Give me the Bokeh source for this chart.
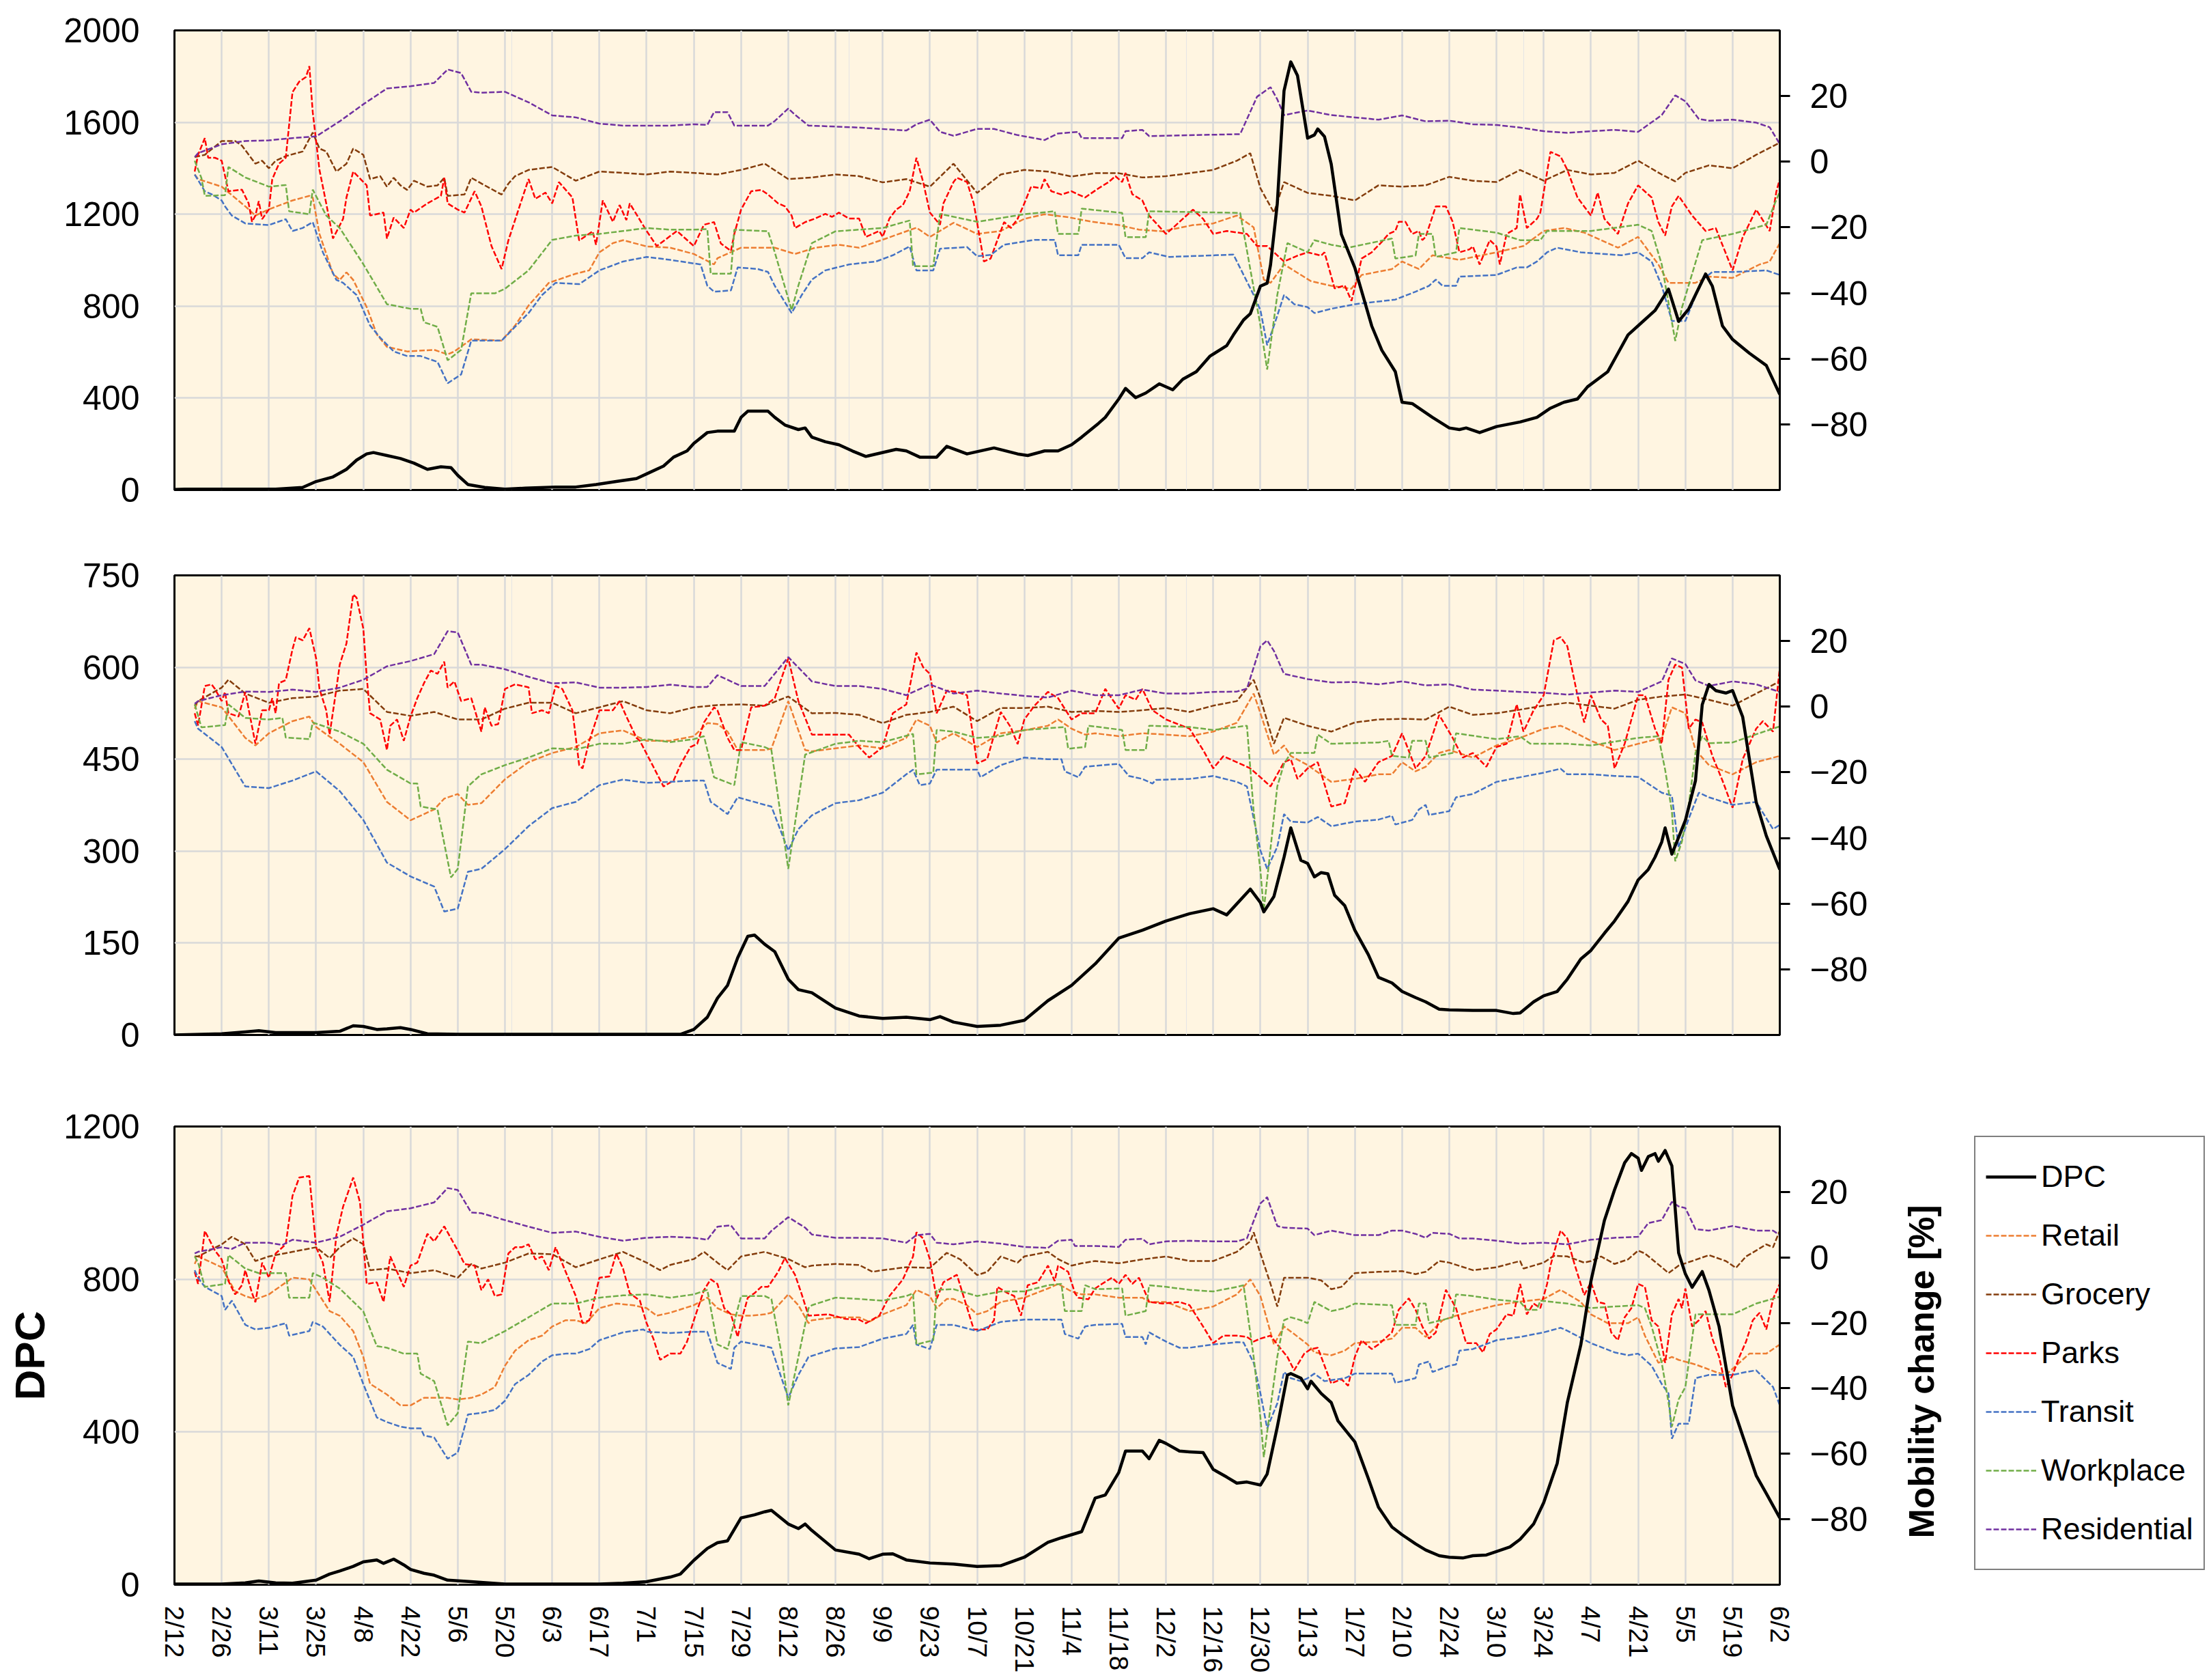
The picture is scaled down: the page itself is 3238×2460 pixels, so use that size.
import math
from bokeh.plotting import figure
from bokeh.models import (Range1d, LinearAxis, FixedTicker, Legend, LegendItem, Grid)
from bokeh.layouts import column, row
from bokeh.core.properties import value
from bokeh.embed import file_html
from bokeh.resources import INLINE

# ---------------- data (day offset from 2020-02-12, value) ----------------
TICK_LABELS = ["2/12", "2/26", "3/11", "3/25", "4/8", "4/22", "5/6", "5/20", "6/3",
               "6/17", "7/1", "7/15", "7/29", "8/12", "8/26", "9/9", "9/23", "10/7",
               "10/21", "11/4", "11/18", "12/2", "12/16", "12/30", "1/13", "1/27",
               "2/10", "2/24", "3/10", "3/24", "4/7", "4/21", "5/5", "5/19", "6/2"]

SERIES_NAMES = ["Retail", "Grocery", "Parks", "Transit", "Workplace", "Residential"]

# ---- panel 1 ----
P1_DPC = [(0,2),(3,4),(30,4),(38,11),(42,37),(47,57),(51,90),(54,130),(57,157),(59,163),(63,150),(67,137),(71,117),(75,90),(79,101),(82,97),(84,64),(87,24),(92,11),(98,4),(104,8),(113,13),(119,13),(125,24),(131,37),(137,50),(141,77),(145,104),(148,143),(152,170),(154,203),(158,250),(161,256),(166,256),(168,316),(170,343),(176,343),(178,316),(181,283),(185,263),(187,270),(189,230),(193,210),(197,197),(201,170),(205,146),(214,177),(217,170),(221,143),(226,143),(229,190),(235,157),(243,183),(250,157),(253,150),(258,170),(262,170),(266,197),(269,230),(274,290),(276,316),(280,396),(282,442),(285,402),(288,422),(292,462),(296,436),(299,482),(303,515),(307,582),(312,628),(314,675),(317,740),(319,767),(322,887),(324,900),(325,980),(327,1246),(329,1737),(331,1863),(333,1803),(336,1531),(338,1545),(339,1571),(341,1538),(343,1418),(346,1113),(350,967),(355,714),(358,608),(362,515),(364,382),(367,376),(369,356),(373,316),(378,270),(381,263),(383,270),(387,250),(392,276),(399,296),(404,316),(408,356),(412,382),(416,396),(419,449),(425,515),(428,595),(431,675),(435,728),(439,781),(443,874),(446,734),(449,788),(454,940),(456,887),(459,714),(462,655),(467,595),(472,542),(476,416)]
P1_RETAIL = [(6,-3.9),(7,-5.3),(14,-7.6),(21,-13.6),(24,-16.4),(28,-14.5),(35,-11.8),(40,-10.4),(41,-10.9),(43,-22.0),(47,-34.1),(49,-36.0),(51,-33.7),(53,-36.0),(57,-44.3),(60,-52.6),(63,-56.4),(69,-57.8),(77,-57.3),(81,-58.7),(83,-57.8),(88,-54.1),(97,-54.5),(101,-49.9),(105,-43.8),(111,-36.9),(119,-34.1),(123,-33.1),(126,-27.6),(130,-24.8),(133,-23.9),(140,-25.8),(147,-26.2),(154,-28.1),(160,-31.3),(161,-29.4),(168,-26.2),(178,-26.2),(184,-28.1),(190,-26.2),(197,-25.3),(203,-26.2),(211,-23.4),(220,-20.1),(224,-22.9),(231,-18.6),(238,-22.0),(245,-21.1),(252,-17.4),(258,-16.0),(265,-16.9),(272,-18.3),(280,-19.3),(286,-20.7),(293,-21.2),(302,-19.3),(308,-18.8),(315,-16.4),(320,-20.0),(323,-35.9),(325,-36.9),(329,-31.3),(337,-36.4),(343,-37.8),(349,-38.7),(352,-34.5),(361,-32.7),(364,-30.4),(369,-32.7),(373,-28.5),(381,-29.9),(392,-27.6),(400,-25.7),(406,-21.1),(412,-20.2),(418,-21.6),(428,-26.2),(434,-22.9),(440,-31.3),(443,-36.9),(451,-36.9),(455,-35.0),(462,-35.4),(470,-31.3),(473,-30.4),(476,-24.8)]
P1_GROCERY = [(6,1.4),(9,2.1),(14,6.3),(18,6.3),(20,4.9),(24,-0.6),(26,0.3),(28,-2.0),(30,0.3),(33,1.7),(38,3.1),(41,8.9),(43,4.0),(45,3.1),(48,-3.0),(51,-0.6),(53,4.0),(56,2.1),(58,-5.3),(61,-4.4),(63,-7.6),(65,-4.9),(67,-7.2),(69,-8.6),(71,-5.8),(75,-7.6),(78,-7.2),(80,-4.9),(81,-10.4),(86,-10.0),(88,-4.9),(92,-7.2),(97,-10.0),(99,-6.7),(101,-4.4),(105,-2.5),(112,-1.6),(119,-5.8),(126,-3.0),(133,-3.4),(140,-3.9),(147,-3.0),(154,-3.4),(161,-3.9),(168,-2.5),(175,-0.6),(182,-5.3),(189,-4.8),(196,-3.9),(203,-4.4),(210,-6.3),(217,-5.3),(224,-7.6),(231,-0.6),(238,-9.5),(245,-3.9),(252,-2.5),(259,-3.0),(266,-4.5),(273,-3.5),(280,-3.5),(287,-4.8),(294,-4.4),(301,-3.5),(308,-2.5),(315,0.3),(319,2.6),(322,-8.1),(326,-15.5),(329,-6.2),(336,-9.5),(343,-10.4),(350,-11.8),(357,-7.2),(364,-7.6),(371,-7.2),(378,-4.6),(385,-5.8),(392,-6.2),(399,-2.5),(406,-5.8),(413,-2.5),(420,-3.9),(427,-3.4),(434,0.3),(441,-3.9),(445,-6.0),(448,-3.4),(455,-1.1),(462,-2.0),(469,2.1),(476,5.8)]
P1_PARKS = [(6,-3.0),(7,2.1),(9,7.2),(10,1.2),(12,1.2),(14,0.3),(16,-9.0),(20,-8.5),(22,-12.7),(23,-18.3),(24,-16.4),(25,-12.0),(26,-17.5),(28,-14.5),(29,-5.3),(31,-0.6),(33,1.2),(35,21.2),(37,24.4),(39,25.8),(40,29.1),(41,15.1),(43,-2.5),(45,-12.7),(47,-23.4),(50,-17.4),(51,-10.9),(53,-3.0),(57,-7.2),(58,-16.4),(62,-15.5),(63,-23.4),(65,-17.0),(68,-20.2),(70,-14.6),(71,-15.5),(75,-12.7),(79,-10.4),(80,-4.9),(81,-12.7),(84,-14.6),(86,-15.5),(89,-9.0),(91,-13.6),(94,-25.7),(97,-32.7),(99,-24.0),(102,-14.6),(105,-5.3),(107,-11.3),(110,-9.4),(112,-12.7),(114,-6.2),(118,-10.9),(120,-24.0),(124,-21.2),(125,-25.3),(127,-11.8),(130,-18.3),(132,-13.2),(134,-17.8),(135,-12.7),(140,-21.1),(143,-25.7),(149,-21.1),(154,-25.7),(157,-19.2),(160,-18.4),(162,-24.9),(165,-27.2),(166,-22.0),(168,-14.6),(171,-9.0),(174,-8.6),(176,-10.0),(179,-12.7),(181,-13.6),(183,-16.4),(184,-20.2),(187,-18.4),(190,-17.3),(193,-15.9),(195,-16.8),(197,-15.5),(200,-17.3),(203,-17.3),(205,-22.9),(209,-21.1),(210,-22.9),(212,-17.3),(214,-14.6),(216,-13.2),(218,-9.0),(220,1.2),(222,-6.2),(224,-15.5),(227,-19.2),(228,-12.7),(231,-6.2),(232,-4.9),(235,-6.2),(237,-12.7),(240,-30.4),(242,-29.5),(244,-23.9),(246,-18.4),(248,-20.2),(250,-17.4),(252,-12.7),(254,-7.6),(257,-8.1),(258,-5.3),(260,-9.0),(263,-10.0),(266,-9.0),(268,-10.0),(270,-10.9),(274,-8.1),(277,-6.2),(279,-4.4),(281,-6.2),(282,-3.4),(284,-9.9),(287,-11.8),(289,-16.4),(294,-22.0),(296,-20.2),(299,-17.4),(302,-14.6),(305,-17.4),(308,-22.0),(312,-21.1),(318,-22.0),(321,-25.7),(324,-25.7),(329,-30.4),(333,-28.6),(336,-27.6),(340,-28.6),(341,-27.6),(344,-38.6),(347,-37.7),(349,-42.4),(351,-34.1),(352,-29.5),(355,-27.6),(358,-24.4),(360,-22.0),(362,-21.1),(363,-18.3),(365,-18.3),(367,-22.0),(369,-21.1),(370,-23.9),(371,-22.9),(374,-13.6),(377,-13.6),(379,-18.3),(381,-27.6),(384,-26.7),(385,-25.8),(387,-31.3),(390,-23.9),(392,-25.8),(393,-31.3),(395,-22.0),(398,-20.2),(399,-10.0),(401,-20.2),(404,-17.4),(405,-15.5),(408,3.0),(411,1.6),(413,-2.5),(414,-5.3),(416,-10.9),(420,-16.4),(422,-9.4),(424,-17.4),(428,-22.0),(431,-12.7),(434,-7.2),(438,-10.9),(440,-18.4),(442,-22.5),(444,-13.6),(446,-10.4),(450,-16.4),(454,-21.1),(457,-20.2),(462,-33.1),(465,-23.0),(469,-14.6),(473,-21.1),(475,-9.0),(476,-5.3)]
P1_TRANSIT = [(6,-3.9),(9,-9.0),(11,-9.9),(14,-11.8),(15,-13.6),(17,-16.4),(21,-18.8),(28,-19.3),(33,-17.5),(35,-21.1),(38,-20.2),(41,-18.4),(44,-27.6),(48,-36.0),(50,-36.9),(54,-40.6),(58,-49.9),(61,-53.6),(65,-57.8),(69,-59.2),(73,-59.2),(78,-61.0),(81,-67.5),(85,-64.8),(88,-54.5),(97,-54.5),(105,-46.1),(109,-40.6),(113,-36.9),(120,-37.3),(126,-33.1),(133,-30.4),(140,-29.0),(147,-29.9),(156,-31.3),(158,-37.8),(160,-39.6),(165,-39.2),(167,-32.2),(173,-32.7),(176,-33.6),(178,-37.8),(183,-46.1),(186,-40.6),(189,-35.9),(193,-33.1),(200,-31.3),(208,-30.4),(213,-28.5),(218,-25.8),(220,-33.1),(225,-33.1),(227,-26.5),(235,-26.0),(238,-28.8),(242,-28.4),(246,-25.3),(255,-23.8),(261,-23.8),(262,-28.5),(268,-28.5),(269,-25.3),(280,-25.3),(282,-29.4),(287,-29.4),(289,-27.6),(295,-29.0),(314,-28.3),(320,-40.6),(322,-45.2),(324,-55.9),(326,-50.0),(329,-40.6),(332,-43.4),(336,-44.3),(338,-46.1),(343,-44.8),(350,-43.4),(362,-42.0),(368,-39.6),(372,-37.8),(374,-35.9),(376,-37.8),(380,-37.8),(381,-35.0),(392,-34.5),(398,-32.2),(401,-32.2),(404,-30.4),(407,-27.6),(410,-26.2),(417,-27.6),(429,-28.5),(434,-27.6),(438,-30.4),(441,-37.8),(444,-48.5),(448,-48.5),(453,-35.9),(456,-33.6),(462,-33.6),(472,-33.1),(476,-34.5)]
P1_WORKPLACE = [(6,0.3),(8,-5.0),(9,-10.4),(15,-10.2),(16,-1.6),(21,-4.8),(28,-7.6),(33,-7.1),(34,-15.1),(40,-16.0),(41,-8.5),(45,-16.4),(49,-20.2),(56,-31.2),(63,-43.4),(70,-44.8),(73,-44.8),(74,-48.9),(78,-50.3),(81,-60.5),(85,-57.3),(88,-40.1),(95,-40.1),(98,-38.7),(105,-33.1),(112,-23.8),(119,-22.5),(126,-22.0),(133,-21.1),(140,-20.2),(147,-20.7),(154,-20.7),(158,-20.5),(159,-34.1),(165,-34.1),(166,-20.7),(176,-21.2),(178,-27.6),(183,-45.2),(185,-37.7),(189,-24.8),(196,-21.2),(210,-20.2),(218,-17.9),(219,-31.8),(225,-31.8),(227,-15.9),(238,-18.3),(252,-16.0),(261,-15.1),(262,-22.0),(268,-22.0),(269,-14.3),(281,-15.6),(282,-23.0),(288,-23.0),(289,-15.1),(316,-15.6),(322,-49.9),(324,-63.3),(327,-40.6),(330,-24.8),(336,-27.6),(338,-23.9),(343,-25.3),(348,-26.2),(361,-23.4),(362,-29.5),(368,-28.6),(369,-22.0),(373,-22.0),(374,-29.0),(380,-27.6),(381,-20.2),(392,-21.6),(399,-23.9),(405,-23.9),(407,-21.1),(420,-21.1),(434,-19.2),(438,-21.1),(441,-31.3),(445,-54.6),(447,-44.4),(453,-23.9),(462,-22.0),(472,-19.2),(476,-9.0)]
P1_RESIDENTIAL = [(6,1.4),(7,2.6),(14,5.3),(21,6.3),(28,6.5),(35,7.2),(42,7.7),(49,12.3),(56,17.5),(63,22.3),(70,23.0),(77,24.0),(81,28.1),(85,27.0),(88,21.3),(91,21.0),(98,21.3),(105,18.1),(112,14.1),(119,13.5),(126,11.6),(133,11.0),(140,11.0),(147,11.0),(154,11.4),(158,11.2),(160,15.1),(164,15.1),(166,11.0),(176,11.0),(178,12.4),(182,16.2),(184,14.3),(188,11.0),(196,10.7),(203,10.4),(217,9.5),(220,11.4),(224,12.8),(227,9.1),(231,7.9),(238,10.0),(243,10.0),(250,8.1),(258,6.6),(262,8.6),(268,9.1),(269,7.2),(281,7.2),(282,9.3),(287,9.7),(289,7.8),(316,8.4),(321,19.8),(325,22.7),(327,19.0),(329,14.2),(336,15.6),(343,14.2),(350,13.5),(357,12.8),(364,14.1),(371,12.3),(378,12.5),(385,11.4),(392,11.2),(399,10.4),(406,9.3),(413,8.8),(420,9.3),(427,9.7),(434,9.1),(438,12.0),(441,14.2),(445,20.2),(448,18.4),(452,13.0),(455,12.5),(462,12.8),(469,11.9),(473,10.5),(476,5.4)]

# ---- panel 2 ----
P2_DPC = [(0,0),(14,2),(21,5),(25,7),(30,4),(42,4),(49,6),(53,15),(56,14),(60,9),(63,10),(67,12),(70,9),(75,2),(84,1),(150,1),(154,9),(158,29),(161,60),(164,81),(167,126),(170,161),(172,163),(175,148),(178,136),(182,91),(185,74),(189,69),(196,44),(203,31),(210,27),(217,29),(224,25),(227,30),(231,21),(238,14),(245,16),(252,24),(259,56),(266,81),(273,116),(280,158),(287,171),(294,186),(301,198),(308,206),(312,196),(319,238),(322,216),(323,201),(326,226),(329,290),(331,338),(334,285),(336,280),(338,258),(340,265),(342,263),(344,228),(347,211),(350,171),(354,131),(357,94),(361,85),(364,71),(368,61),(371,54),(375,42),(378,41),(385,40),(392,40),(397,35),(399,36),(403,54),(406,64),(410,71),(413,91),(417,124),(420,138),(424,166),(427,186),(431,218),(434,253),(437,270),(439,290),(441,315),(442,338),(444,295),(448,350),(451,415),(453,539),(455,572),(457,562),(460,558),(462,562),(465,519),(469,380),(472,325),(476,270)]
P2_RETAIL = [(6,-0.6),(7,1.7),(14,-0.2),(21,-9.5),(24,-11.8),(28,-8.1),(35,-4.4),(40,-3.0),(42,-6.2),(49,-11.3),(56,-16.9),(63,-29.0),(70,-34.6),(77,-31.3),(80,-28.0),(84,-26.6),(87,-29.9),(91,-29.4),(98,-22.1),(105,-16.9),(112,-14.1),(119,-12.3),(126,-8.1),(133,-7.2),(140,-10.4),(147,-10.4),(154,-9.0),(158,-5.0),(161,-5.3),(164,-7.6),(167,-13.2),(175,-13.2),(177,-12.8),(182,1.7),(187,-13.2),(189,-13.6),(196,-12.7),(203,-11.8),(210,-12.7),(217,-9.5),(220,-3.9),(224,-5.8),(226,-10.9),(231,-8.1),(238,-12.3),(245,-8.1),(252,-7.2),(259,-5.8),(262,-3.9),(266,-6.7),(270,-8.5),(273,-8.1),(280,-9.0),(287,-8.1),(294,-8.5),(301,-9.0),(308,-7.6),(315,-4.9),(320,4.0),(322,-2.0),(326,-14.6),(329,-11.8),(331,-15.0),(336,-17.8),(343,-22.9),(350,-22.0),(357,-20.6),(361,-20.6),(364,-16.9),(368,-19.7),(371,-18.3),(375,-14.1),(378,-13.2),(385,-15.5),(392,-11.8),(399,-9.5),(406,-6.7),(411,-5.8),(413,-6.7),(420,-10.4),(427,-13.2),(434,-11.3),(441,-9.5),(444,-0.2),(448,-2.0),(451,-13.2),(455,-17.8),(462,-20.6),(469,-16.9),(476,-15.0)]
P2_GROCERY = [(6,0.3),(7,1.7),(14,5.8),(16,8.2),(21,4.0),(28,1.2),(35,2.6),(42,3.1),(49,4.9),(56,5.4),(63,-1.6),(70,-2.8),(77,-1.6),(84,-3.9),(91,-3.9),(98,-0.6),(105,1.2),(112,1.2),(119,-2.0),(126,-0.2),(133,1.7),(140,-1.1),(147,-2.0),(154,-0.2),(161,0.5),(168,0.7),(175,0.3),(182,3.1),(189,-2.0),(196,-1.9),(203,-2.5),(210,-5.0),(217,-2.5),(224,-1.6),(231,0.0),(238,-4.4),(245,-0.4),(252,-0.4),(259,0.0),(266,-1.6),(273,-1.3),(280,-1.6),(287,-1.1),(294,-0.4),(301,-1.6),(308,0.3),(315,1.7),(320,8.2),(322,2.6),(326,-11.3),(329,-3.4),(336,-5.8),(343,-7.6),(350,-4.8),(357,-3.9),(364,-3.7),(371,-3.9),(378,0.0),(385,-2.5),(392,-2.0),(399,-0.9),(406,0.3),(413,1.2),(420,0.3),(427,-0.6),(434,2.1),(441,3.1),(448,3.7),(455,2.1),(462,0.3),(469,4.0),(476,7.7)]
P2_PARKS = [(6,-2.0),(7,-5.7),(9,6.3),(11,6.8),(12,5.4),(14,1.7),(15,4.5),(16,-2.0),(19,-3.0),(21,4.5),(24,-11.3),(26,-1.1),(28,-1.1),(29,2.6),(30,-2.0),(31,7.2),(33,8.1),(35,17.5),(36,21.2),(38,20.2),(40,23.9),(42,14.7),(43,5.4),(45,-1.1),(46,-8.5),(48,5.4),(49,12.8),(51,19.3),(53,34.2),(54,33.2),(56,23.8),(57,9.1),(58,-2.0),(61,-3.9),(63,-13.2),(64,-5.8),(66,-3.9),(68,-10.4),(70,-3.0),(72,2.6),(74,7.2),(76,11.0),(78,10.0),(80,13.7),(81,5.8),(83,7.7),(85,1.7),(88,2.6),(91,-7.6),(92,-0.2),(94,-5.8),(96,-5.3),(98,5.4),(101,6.8),(105,5.9),(106,-2.0),(109,-1.1),(111,-2.0),(113,6.3),(115,5.4),(118,-1.1),(120,-17.8),(121,-18.8),(123,-10.4),(126,-1.1),(130,-1.1),(132,1.7),(134,-3.0),(137,-9.5),(138,-10.4),(142,-18.3),(145,-24.3),(148,-22.5),(150,-17.8),(153,-12.3),(155,-11.3),(157,-4.8),(160,-0.2),(161,-1.1),(164,-9.5),(166,-13.2),(168,-13.2),(171,-0.2),(175,0.3),(178,2.6),(182,14.7),(185,1.7),(189,-8.5),(196,-8.5),(200,-8.5),(203,-12.3),(206,-15.5),(210,-12.3),(213,-2.0),(217,0.7),(220,16.5),(222,12.0),(224,10.0),(226,-2.0),(229,4.9),(232,4.5),(235,3.5),(238,-17.3),(241,-15.9),(245,-1.6),(248,-6.3),(250,-11.4),(252,-3.9),(255,0.3),(259,4.5),(262,2.6),(266,-3.9),(269,-2.0),(273,-2.0),(276,5.4),(280,-0.6),(282,3.5),(285,2.1),(287,5.4),(290,-1.1),(294,-3.9),(301,-6.7),(305,-13.2),(308,-18.8),(311,-15.1),(315,-16.9),(319,-18.8),(322,-21.5),(325,-24.3),(329,-16.9),(331,-16.0),(333,-22.0),(336,-18.8),(339,-16.9),(343,-30.4),(347,-29.4),(350,-18.8),(353,-22.9),(357,-16.9),(361,-15.0),(364,-8.1),(368,-18.8),(371,-15.0),(375,-2.5),(379,-9.5),(382,-15.5),(385,-14.1),(389,-18.3),(392,-12.3),(395,-11.3),(398,0.7),(400,-7.6),(403,-1.1),(406,3.5),(409,20.2),(411,21.2),(413,18.4),(416,3.5),(418,-4.8),(420,3.5),(423,-3.9),(425,-5.8),(427,-18.8),(430,-11.3),(434,3.5),(436,3.5),(439,-6.7),(441,-11.3),(443,8.2),(445,12.8),(447,11.9),(449,-6.7),(451,-3.9),(453,-4.8),(456,-15.0),(459,-22.5),(462,-30.8),(465,-16.0),(469,-6.7),(471,-4.4),(474,-7.6),(476,11.9)]
P2_TRANSIT = [(6,-4.4),(7,-6.7),(14,-12.3),(21,-24.3),(28,-24.8),(35,-22.5),(42,-19.7),(49,-25.7),(56,-34.5),(63,-47.5),(70,-51.7),(77,-54.8),(80,-62.4),(84,-61.5),(87,-50.3),(91,-49.4),(98,-43.4),(105,-36.4),(112,-30.9),(119,-29.0),(126,-23.9),(133,-22.2),(140,-23.2),(147,-22.9),(154,-22.5),(157,-22.5),(159,-29.0),(161,-30.4),(164,-32.7),(167,-27.6),(175,-29.9),(177,-30.4),(182,-43.8),(185,-37.3),(189,-33.1),(196,-29.4),(203,-28.5),(210,-26.2),(217,-20.6),(219,-19.2),(221,-23.9),(224,-23.4),(226,-19.2),(238,-19.2),(239,-21.5),(245,-17.8),(252,-15.5),(259,-16.0),(263,-16.0),(264,-19.7),(268,-21.5),(270,-18.3),(280,-17.4),(283,-21.1),(287,-22.0),(290,-23.4),(291,-22.3),(301,-22.0),(308,-21.1),(315,-22.9),(318,-24.3),(322,-43.8),(324,-49.4),(327,-42.7),(329,-32.7),(331,-35.0),(336,-35.3),(339,-33.6),(343,-36.4),(350,-35.0),(357,-34.4),(361,-33.2),(362,-35.9),(367,-34.5),(369,-31.3),(371,-29.9),(372,-33.0),(378,-31.8),(380,-27.6),(385,-26.6),(392,-22.9),(399,-21.5),(406,-20.1),(411,-18.9),(413,-20.6),(420,-20.6),(427,-21.1),(434,-21.4),(441,-26.2),(444,-27.1),(446,-42.9),(449,-34.1),(452,-26.2),(455,-27.6),(462,-29.9),(469,-29.0),(474,-37.3),(476,-36.0)]
P2_WORKPLACE = [(6,0.7),(8,-6.3),(15,-5.6),(16,0.7),(21,-3.4),(28,-3.9),(32,-3.4),(33,-9.4),(40,-9.9),(41,-4.8),(49,-7.6),(56,-11.3),(63,-19.2),(70,-23.4),(72,-23.4),(73,-30.4),(78,-31.3),(82,-52.0),(84,-49.4),(87,-24.3),(91,-20.6),(98,-17.8),(105,-15.5),(112,-12.7),(119,-13.0),(126,-11.3),(133,-11.3),(140,-9.9),(147,-10.8),(154,-9.9),(157,-9.0),(160,-21.5),(166,-23.9),(168,-10.8),(175,-12.3),(177,-13.2),(182,-49.4),(187,-14.6),(196,-11.3),(203,-10.4),(210,-10.8),(219,-8.3),(220,-20.6),(225,-20.1),(226,-7.1),(231,-7.6),(238,-9.5),(245,-9.0),(252,-7.1),(264,-6.2),(265,-12.8),(270,-12.3),(271,-5.8),(281,-7.1),(282,-13.2),(288,-13.2),(289,-5.8),(301,-6.2),(308,-7.1),(318,-5.8),(320,-31.8),(322,-50.0),(323,-62.0),(327,-24.3),(329,-17.4),(331,-14.1),(338,-14.1),(339,-8.5),(343,-11.3),(357,-10.9),(360,-10.4),(361,-15.0),(366,-15.5),(367,-10.4),(371,-10.4),(372,-15.5),(379,-14.1),(380,-8.1),(392,-9.9),(399,-9.0),(402,-11.3),(413,-11.3),(420,-11.8),(434,-9.5),(440,-9.0),(442,-19.2),(444,-31.8),(445,-47.1),(447,-41.0),(449,-29.9),(451,-14.1),(453,-9.0),(455,-11.1),(462,-10.9),(469,-8.4),(476,-6.0)]
P2_RESIDENTIAL = [(6,0.9),(7,1.7),(14,3.5),(21,4.6),(28,4.5),(35,5.2),(42,4.5),(49,5.8),(56,8.2),(63,12.3),(70,13.9),(77,16.0),(81,23.0),(84,22.6),(88,12.8),(91,12.8),(98,11.4),(105,9.1),(112,7.1),(119,7.4),(126,5.8),(133,5.8),(140,6.0),(147,6.7),(154,6.0),(158,6.0),(161,9.6),(168,6.3),(175,6.3),(182,15.1),(189,7.7),(196,6.3),(203,6.3),(210,5.4),(217,3.5),(224,6.8),(231,4.0),(238,4.9),(245,4.0),(252,3.3),(259,2.8),(266,4.9),(273,3.5),(280,3.5),(287,5.2),(294,4.0),(301,4.0),(308,4.5),(315,4.6),(318,5.5),(322,18.4),(324,20.2),(326,17.0),(329,10.0),(336,8.4),(343,7.4),(350,7.5),(357,6.8),(364,7.7),(371,6.5),(378,6.8),(385,5.2),(392,4.9),(399,4.5),(406,4.2),(413,3.7),(420,4.3),(427,4.9),(434,4.5),(441,7.7),(444,14.7),(448,13.0),(451,8.0),(455,6.3),(462,7.7),(469,6.8),(476,4.5)]

# ---- panel 3 ----
P3_DPC = [(0,2),(14,2),(21,5),(25,10),(30,5),(35,4),(42,12),(46,28),(49,36),(53,48),(56,60),(60,65),(62,56),(65,67),(68,52),(70,40),(74,30),(77,25),(81,12),(88,8),(98,2),(126,2),(133,4),(140,8),(147,20),(150,28),(154,64),(158,95),(161,110),(164,115),(168,175),(172,183),(175,191),(177,195),(182,159),(185,147),(187,159),(189,142),(196,91),(203,80),(206,68),(210,80),(213,81),(217,65),(224,57),(231,54),(238,48),(245,50),(252,72),(259,111),(263,123),(266,131),(269,139),(273,227),(276,235),(280,294),(282,350),(287,350),(289,330),(292,378),(294,370),(298,350),(301,348),(305,346),(308,302),(312,282),(315,266),(318,269),(322,261),(324,290),(327,413),(330,549),(331,553),(334,541),(336,513),(337,533),(340,501),(343,477),(345,429),(350,374),(354,278),(357,203),(361,151),(364,131),(368,107),(371,91),(375,76),(378,72),(382,70),(385,76),(389,78),(392,87),(396,99),(399,119),(403,159),(406,215),(410,318),(413,477),(417,628),(420,795),(424,954),(427,1034),(430,1105),(432,1129),(434,1117),(435,1085),(437,1121),(439,1129),(440,1109),(442,1137),(444,1097),(446,869),(448,814),(450,779),(453,820),(455,771),(458,676),(462,469),(465,390),(469,286),(472,239),(476,175)]
P3_RETAIL = [(6,-2.0),(7,0.3),(14,-3.0),(18,-10.4),(21,-11.8),(24,-12.8),(28,-11.3),(35,-6.2),(40,-6.7),(42,-10.0),(46,-16.4),(49,-17.8),(53,-22.5),(56,-30.4),(58,-38.6),(63,-41.9),(67,-45.2),(70,-45.2),(74,-42.9),(77,-42.9),(81,-42.9),(84,-43.4),(88,-42.9),(91,-41.9),(95,-39.6),(98,-33.1),(101,-28.5),(105,-25.3),(109,-23.9),(112,-21.1),(116,-19.2),(119,-19.2),(122,-20.1),(126,-15.5),(131,-14.1),(136,-14.6),(140,-15.5),(143,-17.8),(147,-16.9),(154,-14.6),(158,-12.3),(161,-15.5),(165,-17.4),(168,-17.8),(171,-17.8),(175,-17.4),(177,-16.9),(182,-11.3),(185,-14.6),(188,-20.1),(189,-19.2),(196,-18.3),(203,-18.3),(206,-19.7),(210,-17.4),(217,-14.6),(220,-9.9),(224,-11.8),(226,-15.5),(229,-12.7),(231,-12.7),(235,-14.6),(238,-17.4),(241,-16.4),(245,-13.6),(252,-12.3),(259,-9.5),(262,-8.1),(266,-10.4),(269,-11.3),(273,-11.3),(280,-12.3),(287,-12.3),(289,-13.6),(294,-13.6),(301,-16.4),(308,-15.0),(315,-11.3),(319,-6.7),(322,-11.8),(326,-26.6),(329,-21.1),(332,-23.4),(336,-26.6),(338,-29.0),(343,-29.9),(347,-28.5),(350,-26.2),(357,-25.7),(361,-24.8),(364,-21.5),(368,-21.5),(371,-24.3),(376,-19.2),(380,-17.8),(385,-16.4),(392,-14.6),(399,-13.5),(406,-12.7),(411,-9.9),(417,-13.6),(420,-17.4),(425,-20.1),(431,-20.1),(434,-18.3),(436,-23.9),(440,-32.2),(444,-30.4),(446,-31.3),(451,-32.7),(457,-35.0),(460,-35.9),(463,-33.1),(467,-29.4),(472,-29.4),(476,-26.6)]
P3_GROCERY = [(6,0.3),(7,0.3),(14,4.0),(17,6.3),(21,4.0),(24,-1.1),(28,0.3),(35,1.7),(42,3.1),(46,-0.2),(49,3.1),(53,5.8),(56,4.0),(58,-3.9),(63,-3.4),(70,-4.8),(77,-3.9),(84,-6.2),(88,-2.0),(91,-3.4),(98,-1.6),(105,1.2),(112,1.0),(119,-3.0),(126,-0.6),(133,1.7),(140,-1.6),(144,-3.9),(147,-2.3),(154,-0.5),(157,1.7),(161,-1.6),(164,-3.9),(168,0.3),(175,1.7),(182,-0.5),(187,-3.0),(189,-2.5),(196,-2.0),(203,-2.3),(207,-4.4),(210,-3.9),(217,-3.0),(224,-3.2),(229,1.4),(233,-0.6),(238,-5.4),(241,-4.4),(245,0.3),(250,-1.6),(252,0.3),(259,1.7),(262,-0.5),(266,-2.5),(269,-1.8),(273,-1.1),(280,-1.8),(287,-0.6),(294,0.3),(301,-1.1),(308,-1.1),(315,1.7),(319,4.9),(320,7.7),(322,1.2),(325,-8.1),(327,-15.0),(329,-6.2),(336,-6.2),(340,-7.0),(343,-9.7),(346,-9.0),(350,-4.8),(357,-4.4),(364,-4.2),(368,-5.1),(371,-4.4),(375,-1.1),(378,-1.6),(385,-3.9),(392,-3.0),(399,-1.1),(400,-3.4),(406,-1.6),(409,0.5),(413,0.3),(418,-1.6),(420,-1.1),(423,0.3),(427,-2.0),(431,-0.6),(434,2.1),(436,1.2),(441,-3.0),(443,-4.8),(446,-2.5),(450,-1.1),(455,0.7),(460,-1.1),(463,-3.2),(466,0.3),(469,2.1),(472,4.0),(474,3.1),(476,8.2)]
P3_PARKS = [(6,-4.4),(7,-8.1),(9,8.1),(12,2.1),(14,-0.6),(16,-7.2),(18,-11.3),(20,-8.5),(21,-3.9),(23,-10.9),(24,-13.7),(26,-1.6),(28,-6.2),(30,1.2),(33,4.0),(35,18.8),(37,24.4),(40,24.9),(42,3.1),(44,-1.6),(46,-13.6),(48,6.7),(50,15.5),(53,24.4),(55,16.9),(57,-8.1),(60,-7.6),(62,-13.6),(64,0.3),(66,-4.4),(68,-9.0),(70,-2.5),(72,-1.6),(75,7.2),(77,4.9),(80,9.5),(82,5.8),(84,2.1),(86,-2.0),(89,-2.5),(91,-10.0),(93,-6.7),(95,-11.8),(97,-11.3),(99,1.2),(101,3.1),(103,3.1),(105,4.0),(107,-0.6),(109,0.3),(111,-3.9),(113,3.1),(116,-4.4),(119,-11.8),(121,-20.1),(123,-19.2),(126,-6.2),(129,-5.8),(131,1.2),(133,-3.4),(135,-10.9),(138,-13.2),(140,-20.1),(142,-24.8),(144,-31.3),(147,-29.4),(150,-29.4),(152,-25.7),(154,-19.2),(157,-10.0),(159,-6.7),(161,-8.1),(163,-15.5),(165,-17.4),(167,-24.3),(168,-19.7),(170,-12.3),(172,-10.9),(174,-9.0),(176,-9.0),(179,-4.4),(181,-0.2),(184,-5.3),(186,-11.3),(188,-17.8),(194,-17.4),(199,-18.8),(203,-19.0),(205,-20.1),(209,-17.8),(212,-11.8),(216,-6.7),(219,0.3),(220,7.7),(222,5.8),(224,-0.6),(226,-12.7),(228,-7.6),(232,-5.3),(237,-22.0),(241,-22.0),(243,-19.2),(244,-9.0),(247,-10.9),(249,-11.8),(251,-17.8),(253,-8.5),(256,-7.6),(259,-2.5),(261,-7.2),(262,-2.5),(265,-4.4),(267,-10.9),(268,-12.3),(271,-12.8),(273,-9.5),(275,-8.1),(278,-6.2),(280,-8.1),(282,-5.3),(284,-8.1),(286,-6.2),(289,-13.6),(293,-14.1),(298,-13.6),(301,-14.6),(305,-21.1),(308,-26.2),(311,-23.9),(315,-23.9),(318,-24.3),(320,-25.7),(322,-24.8),(325,-23.9),(327,-26.6),(330,-30.4),(332,-34.5),(335,-29.4),(337,-28.0),(339,-27.6),(343,-38.5),(346,-37.2),(348,-39.2),(350,-30.4),(352,-25.3),(355,-28.0),(357,-26.6),(361,-22.9),(363,-16.0),(366,-12.5),(368,-16.0),(370,-21.1),(372,-24.8),(374,-22.9),(377,-9.9),(380,-15.5),(381,-19.2),(383,-26.2),(386,-26.2),(388,-29.0),(390,-23.4),(392,-22.0),(395,-17.4),(397,-17.8),(399,-8.1),(401,-17.4),(403,-14.1),(405,-15.5),(407,-8.1),(408,-2.5),(410,4.9),(411,8.2),(413,5.8),(415,-1.6),(418,-11.5),(420,-7.6),(422,-13.6),(424,-14.1),(426,-22.9),(428,-25.3),(430,-18.3),(432,-15.5),(434,-8.1),(436,-9.0),(438,-19.2),(440,-21.1),(442,-32.2),(444,-17.4),(446,-12.7),(447,-15.5),(448,-9.5),(450,-21.1),(452,-19.2),(454,-16.4),(456,-24.8),(458,-30.4),(460,-39.6),(462,-35.9),(464,-30.4),(466,-25.7),(468,-19.2),(470,-16.9),(472,-22.0),(474,-12.7),(476,-8.0)]
P3_TRANSIT = [(6,-3.9),(7,-6.2),(9,-9.0),(14,-11.8),(15,-16.0),(17,-13.2),(21,-20.6),(24,-22.0),(28,-21.5),(33,-20.1),(34,-23.9),(40,-22.5),(41,-19.7),(44,-21.1),(49,-26.7),(53,-30.4),(56,-38.7),(60,-48.9),(63,-50.3),(67,-51.7),(70,-52.2),(73,-52.2),(74,-54.4),(77,-55.0),(81,-61.5),(84,-59.6),(87,-48.0),(91,-47.5),(95,-46.6),(98,-43.8),(101,-38.7),(105,-35.9),(109,-31.8),(112,-29.9),(116,-29.4),(119,-29.4),(123,-28.0),(126,-25.3),(133,-22.9),(139,-22.0),(140,-22.7),(147,-23.1),(154,-22.7),(158,-22.7),(161,-32.2),(165,-34.1),(166,-27.6),(168,-25.7),(175,-27.1),(177,-27.6),(180,-36.9),(182,-42.9),(185,-35.9),(188,-30.4),(196,-27.8),(203,-27.4),(210,-24.8),(217,-23.4),(219,-20.6),(220,-26.6),(224,-28.0),(226,-20.6),(231,-20.6),(238,-22.5),(245,-19.7),(252,-19.0),(263,-19.0),(264,-23.4),(268,-24.8),(270,-21.1),(273,-20.6),(281,-20.3),(282,-24.3),(287,-24.3),(288,-26.6),(289,-22.9),(294,-25.7),(298,-27.6),(301,-27.6),(308,-26.6),(315,-25.9),(317,-26.0),(320,-32.2),(322,-41.5),(324,-52.2),(327,-44.6),(329,-35.0),(331,-36.9),(334,-37.8),(336,-36.9),(338,-35.5),(341,-37.8),(347,-36.9),(350,-35.5),(361,-35.5),(362,-38.3),(368,-36.9),(369,-32.7),(372,-31.8),(373,-35.0),(378,-33.1),(380,-32.7),(381,-28.5),(385,-28.0),(392,-25.3),(399,-24.3),(406,-22.9),(411,-21.5),(413,-22.4),(420,-26.2),(427,-29.0),(431,-29.9),(434,-29.4),(438,-33.1),(441,-38.7),(443,-41.5),(444,-55.4),(446,-50.8),(449,-50.8),(451,-36.9),(455,-35.9),(462,-35.9),(466,-35.0),(469,-34.5),(474,-39.6),(476,-45.2)]
P3_WORKPLACE = [(6,0.3),(7,-1.6),(9,-9.0),(15,-8.1),(16,0.7),(21,-3.4),(25,-4.8),(33,-4.8),(34,-12.3),(40,-12.3),(41,-4.8),(44,-6.2),(49,-9.5),(56,-16.5),(60,-27.1),(63,-27.6),(68,-29.4),(72,-29.4),(73,-35.5),(77,-37.8),(81,-51.3),(84,-47.6),(87,-25.7),(91,-26.2),(98,-22.5),(105,-18.3),(112,-14.1),(119,-14.1),(126,-12.3),(133,-11.6),(140,-11.3),(147,-12.3),(154,-11.3),(158,-9.9),(161,-26.6),(164,-28.0),(166,-19.7),(168,-11.8),(175,-11.8),(177,-12.7),(180,-29.4),(182,-45.2),(185,-30.4),(188,-15.5),(189,-14.6),(196,-12.3),(203,-12.7),(210,-13.2),(217,-11.8),(219,-11.0),(220,-26.6),(225,-25.3),(226,-9.9),(231,-9.7),(238,-11.8),(245,-10.4),(252,-10.4),(259,-8.5),(263,-8.1),(264,-16.4),(269,-16.4),(270,-8.5),(273,-9.7),(281,-9.5),(282,-17.8),(288,-16.4),(289,-8.5),(294,-9.0),(301,-9.9),(308,-10.4),(315,-9.0),(317,-8.5),(320,-30.4),(322,-48.9),(323,-61.0),(327,-30.4),(329,-19.2),(331,-18.3),(334,-19.2),(336,-20.1),(338,-13.6),(343,-16.4),(347,-15.5),(350,-14.1),(361,-14.6),(362,-20.6),(368,-20.6),(369,-14.1),(371,-14.1),(372,-20.1),(379,-18.3),(380,-11.3),(385,-11.8),(392,-12.9),(399,-13.6),(401,-16.0),(404,-16.0),(405,-13.2),(413,-14.1),(420,-15.5),(427,-15.0),(434,-14.6),(436,-15.5),(438,-21.1),(441,-32.2),(443,-44.3),(444,-51.7),(446,-43.4),(448,-39.6),(449,-32.2),(451,-17.4),(462,-17.4),(469,-14.1),(476,-12.0)]
P3_RESIDENTIAL = [(6,1.2),(7,1.7),(14,3.1),(17,2.6),(21,4.5),(28,4.5),(32,3.8),(35,5.4),(42,4.5),(49,6.3),(56,10.0),(63,14.1),(70,15.0),(77,16.8),(81,21.2),(84,20.6),(88,13.7),(91,13.5),(98,11.4),(105,9.4),(112,7.5),(119,7.9),(126,6.3),(133,5.1),(140,6.0),(147,6.3),(154,6.0),(158,5.4),(161,9.4),(165,9.8),(168,5.8),(175,5.8),(177,8.1),(182,12.3),(187,9.1),(189,7.0),(196,6.0),(203,6.0),(210,5.8),(217,4.5),(220,6.8),(224,7.2),(226,4.5),(231,4.0),(238,4.9),(245,4.2),(252,3.2),(259,2.9),(262,5.1),(266,5.4),(267,3.5),(273,3.5),(280,3.2),(282,5.4),(287,5.7),(289,4.0),(294,4.9),(301,5.1),(308,4.9),(315,4.9),(318,5.8),(322,16.5),(324,18.4),(327,9.6),(329,9.1),(336,8.8),(338,6.8),(343,8.2),(350,6.8),(357,6.8),(361,8.2),(364,8.2),(368,7.2),(371,6.0),(373,7.5),(378,7.2),(381,5.8),(385,5.8),(392,5.1),(399,4.2),(406,4.5),(413,4.0),(420,5.4),(427,6.0),(434,6.3),(437,10.5),(441,11.4),(444,17.0),(446,15.6),(448,15.1),(451,8.6),(455,8.2),(462,9.6),(469,8.2),(474,8.2),(476,6.8)]

# ---------------- styling ----------------
FONT = "Liberation Sans"
BG = "#FFF5E1"
GRID = "#D9D9D9"
COLORS = {"Retail": "#ED7D31", "Grocery": "#843C0C", "Parks": "#FF0000",
          "Transit": "#4472C4", "Workplace": "#70AD47", "Residential": "#7030A0"}
X_TICKS = [14 * i for i in range(len(TICK_LABELS))]
FRAME_H = 673
FRAME_W = 2351
FIG_W = 3230
BORDER_L = 255
MOB_DASH = "8 3"
MOB_WIDTH = 2.5
DPC_WIDTH = 4.5


def unzip(pairs):
    return [a for a, _ in pairs], [b for _, b in pairs]


def make_panel(dpc, mobility, ymax, yticks, top, bottom, right, show_x):
    p = figure(width=BORDER_L + FRAME_W + right, height=top + FRAME_H + bottom,
               x_range=Range1d(0, 476), y_range=Range1d(0, ymax),
               x_axis_location="below" if show_x else None,
               output_backend="svg", toolbar_location=None,
               min_border_left=BORDER_L, min_border_right=right,
               min_border_top=top, min_border_bottom=bottom,
               background_fill_color=BG, border_fill_color="white",
               outline_line_color="black", outline_line_width=3)
    p.extra_y_ranges = {"mob": Range1d(-100, 40)}

    p.ygrid.ticker = FixedTicker(ticks=yticks)
    p.ygrid.grid_line_color = GRID
    p.ygrid.grid_line_width = 2.5
    if show_x:
        p.xgrid.ticker = FixedTicker(ticks=X_TICKS)
        p.xgrid.grid_line_color = GRID
        p.xgrid.grid_line_width = 2.5
    else:
        p.add_layout(Grid(dimension=0, ticker=FixedTicker(ticks=X_TICKS),
                          grid_line_color=GRID, grid_line_width=2.5))

    la = p.left[0]
    la.ticker = FixedTicker(ticks=yticks)
    la.axis_line_color = None
    la.major_tick_line_color = None
    la.minor_tick_line_color = None
    la.major_label_text_font = FONT
    la.major_label_text_font_size = "50px"
    la.major_label_text_color = "black"
    la.major_label_standoff = 45

    ra = LinearAxis(y_range_name="mob", ticker=FixedTicker(ticks=[-80, -60, -40, -20, 0, 20]))
    ra.axis_line_color = "black"
    ra.axis_line_width = 3
    ra.major_tick_line_color = "black"
    ra.major_tick_line_width = 3
    ra.major_tick_out = 15
    ra.major_tick_in = 0
    ra.minor_tick_line_color = None
    ra.major_label_text_font = FONT
    ra.major_label_text_font_size = "50px"
    ra.major_label_text_color = "black"
    ra.major_label_standoff = 29
    p.add_layout(ra, "right")

    if show_x:
        xa = p.below[0]
        xa.ticker = FixedTicker(ticks=X_TICKS)
        xa.major_label_overrides = {t: lab for t, lab in zip(X_TICKS, TICK_LABELS)}
        xa.major_label_orientation = "vertical"
        xa.major_label_text_font = FONT
        xa.major_label_text_font_size = "39px"
        xa.major_label_text_color = "black"
        xa.major_label_standoff = 25
        xa.axis_line_color = None
        xa.major_tick_line_color = None
        xa.minor_tick_line_color = None

    for name in SERIES_NAMES:
        xs, ys = unzip(mobility[name])
        p.line(xs, ys, y_range_name="mob", line_color=COLORS[name],
               line_width=MOB_WIDTH, line_dash=MOB_DASH)
    xs, ys = unzip(dpc)
    p.line(xs, ys, line_color="black", line_width=DPC_WIDTH, line_join="round")
    return p


RIGHT_FULL = FIG_W - BORDER_L - FRAME_W
RIGHT_P3 = 135

p1 = make_panel(P1_DPC, {"Retail": P1_RETAIL, "Grocery": P1_GROCERY, "Parks": P1_PARKS,
                         "Transit": P1_TRANSIT, "Workplace": P1_WORKPLACE,
                         "Residential": P1_RESIDENTIAL},
                2000, [0, 400, 800, 1200, 1600, 2000], 44, 62, RIGHT_FULL, False)
p2 = make_panel(P2_DPC, {"Retail": P2_RETAIL, "Grocery": P2_GROCERY, "Parks": P2_PARKS,
                         "Transit": P2_TRANSIT, "Workplace": P2_WORKPLACE,
                         "Residential": P2_RESIDENTIAL},
                750, [0, 150, 300, 450, 600, 750], 63, 67, RIGHT_FULL, False)
p3 = make_panel(P3_DPC, {"Retail": P3_RETAIL, "Grocery": P3_GROCERY, "Parks": P3_PARKS,
                         "Transit": P3_TRANSIT, "Workplace": P3_WORKPLACE,
                         "Residential": P3_RESIDENTIAL},
                1200, [0, 400, 800, 1200], 67, 130, RIGHT_P3, True)

la3 = p3.left[0]
la3.axis_label = "DPC"
la3.axis_label_text_font = FONT
la3.axis_label_text_font_size = "62px"
la3.axis_label_text_font_style = "bold"
la3.axis_label_text_color = "black"
la3.axis_label_standoff = 12

# ---- side panel (its frame is aligned with panel 3's frame by the row layout) ----
P3_H = 67 + FRAME_H + 130
SIDE_W = FIG_W - (BORDER_L + FRAME_W + RIGHT_P3)
side = figure(width=SIDE_W, height=P3_H, x_range=Range1d(0, SIDE_W), y_range=Range1d(0, FRAME_H),
              x_axis_location=None, y_axis_location=None,
              output_backend="svg", toolbar_location=None,
              min_border_left=0, min_border_right=0, min_border_top=67, min_border_bottom=130,
              background_fill_color="white", border_fill_color="white",
              outline_line_color=None)
side.xgrid.visible = False
side.ygrid.visible = False

side.text(x=[72], y=[313], text=["Mobility change [%]"], angle=math.pi / 2,
          text_align="center", text_baseline="middle", text_color="black",
          text_font=value(FONT), text_font_size=value("52px"), text_font_style="bold")

# legend proxies: placed far outside the visible range so only their legend glyphs show
items = [LegendItem(label="DPC", renderers=[side.line([-1000, -999], [-1000, -1000],
                                                      line_color="black",
                                                      line_width=DPC_WIDTH)])]
for name in SERIES_NAMES:
    r = side.line([-1000, -999], [-1000, -1000], line_color=COLORS[name],
                  line_width=MOB_WIDTH, line_dash=MOB_DASH)
    items.append(LegendItem(label=name, renderers=[r]))

legend = Legend(items=items, location=(150, 21), orientation="vertical",
                label_text_font=FONT, label_text_font_size="45px", label_text_color="black",
                glyph_width=74, glyph_height=86, label_height=86, label_standoff=7,
                spacing=0, padding=15, margin=0,
                border_line_color="black", border_line_width=2,
                background_fill_color="white", background_fill_alpha=1.0)
side.add_layout(legend)

layout = column(p1, p2, row(p3, side, spacing=0), spacing=0)
open("out.html", "w").write(file_html(layout, INLINE))
